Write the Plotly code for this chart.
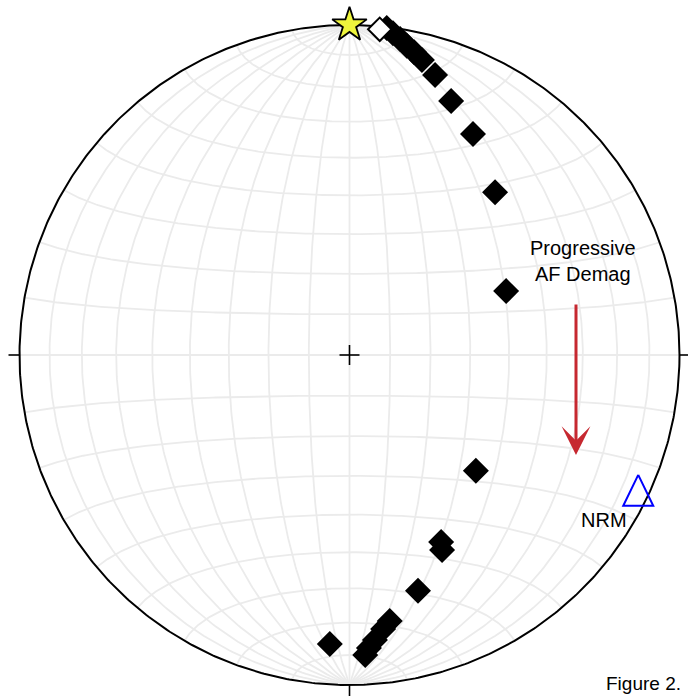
import numpy as np
import plotly.graph_objects as go

# Demagnetization directions (declination, inclination in degrees)
# lower hemisphere (filled)
dec_lower = [6.5, 7.7, 9.1, 10.5, 12.0, 13.8, 17.0, 21.8, 29.2, 41.8, 67.8,
             132.5, 153.9, 154.6, 163.8, 171.4, 173.0, 174.9, 176.2, 177.0, 183.9]
inc_lower = [0.3, 1.8, 3.4, 5.3, 6.8, 8.8, 12.3, 18.2, 24.3, 34.2, 47.5,
             46.9, 37.0, 34.9, 26.5, 19.6, 17.5, 14.4, 12.0, 9.9, 13.3]
# upper hemisphere (open)
dec_upper = [5.3]
inc_upper = [-1.0]
# natural remanent magnetization
nrm_dec = [116.0]
nrm_inc = [3.0]
# reference direction (star)
ref_dec = [0.0]
ref_inc = [0.0]

W, H = 688, 696
CX, CY, R = 349.5, 355.0, 330.0   # net centre and radius in pixels


def project(dec, inc):
    """Equal-area (Schmidt) projection of directions onto the unit circle."""
    d = np.radians(np.asarray(dec, float))
    i = np.radians(np.abs(np.asarray(inc, float)))
    r = np.sqrt(1.0 - np.sin(i))
    return r * np.sin(d), r * np.cos(d)


def net_xy(lam, phi):
    """Project a point given by longitude/latitude about the N-S axis."""
    lam, phi = np.radians(lam), np.radians(phi)
    e = np.cos(phi) * np.sin(lam)
    n = np.sin(phi)
    d = np.cos(phi) * np.cos(lam)
    s = 1.0 / np.sqrt(1.0 + d)
    return e * s, n * s


fig = go.Figure()

# 10-degree Schmidt net
gx, gy = [], []
t = np.linspace(-90, 90, 241)
for lam in range(-80, 81, 10):
    x, y = net_xy(np.full_like(t, lam), t)
    gx += list(x) + [None]
    gy += list(y) + [None]
for phi in range(-80, 81, 10):
    x, y = net_xy(t, np.full_like(t, phi))
    gx += list(x) + [None]
    gy += list(y) + [None]
fig.add_trace(go.Scatter(x=gx, y=gy, mode="lines",
                         line=dict(color="rgb(235,235,235)", width=1.8),
                         hoverinfo="skip", showlegend=False))

# primitive circle
a = np.linspace(0, 2 * np.pi, 721)
fig.add_trace(go.Scatter(x=np.cos(a), y=np.sin(a), mode="lines",
                         line=dict(color="black", width=2),
                         hoverinfo="skip", showlegend=False))

# cardinal ticks and centre cross
tick = 11 / R
arm = 10 / R
tx, ty = [], []
for ang in (0, 90, 180, 270):
    c, s = np.sin(np.radians(ang)), np.cos(np.radians(ang))
    tx += [c, c * (1 + tick), None]
    ty += [s, s * (1 + tick), None]
tx += [-arm, arm, None, 0, 0]
ty += [0, 0, None, -arm, arm]
fig.add_trace(go.Scatter(x=tx, y=ty, mode="lines",
                         line=dict(color="black", width=1.6),
                         hoverinfo="skip", showlegend=False))

# lower-hemisphere directions
lx, ly = project(dec_lower, inc_lower)
fig.add_trace(go.Scatter(x=lx, y=ly, mode="markers",
                         marker=dict(symbol="diamond", size=20, color="black",
                                     line=dict(width=0)),
                         showlegend=False))

# upper-hemisphere directions
ux, uy = project(dec_upper, inc_upper)
fig.add_trace(go.Scatter(x=ux, y=uy, mode="markers",
                         marker=dict(symbol="diamond", size=18, color="white",
                                     line=dict(width=2, color="black")),
                         showlegend=False))

# reference direction
sx, sy = project(ref_dec, ref_inc)
fig.add_trace(go.Scatter(x=sx, y=sy, mode="markers",
                         marker=dict(symbol="star", size=26, color="#eef53c",
                                     line=dict(width=1.8, color="black")),
                         showlegend=False))

# NRM: open triangle centred on the direction
nx, ny = project(nrm_dec, nrm_inc)
tri_dx = np.array([0, 15, -15, 0]) / R
tri_dy = np.array([21, -10, -10, 21]) / R
fig.add_trace(go.Scatter(x=nx[0] + tri_dx, y=ny[0] + tri_dy, mode="lines",
                         line=dict(color="#0000ff", width=2),
                         hoverinfo="skip", showlegend=False))

FAMILY = "Liberation Sans, Arial, sans-serif"


def px(xp):
    return xp / W


def py(yp):
    return 1 - yp / H


def label(xp, yp, text, size):
    fig.add_annotation(x=px(xp), y=py(yp), xref="paper", yref="paper",
                       xanchor="center", yanchor="middle",
                       text=text, showarrow=False, align="center",
                       font=dict(family=FAMILY, size=size, color="black"))


label(583, 261, "Progressive<br>AF Demag", 20)
label(604, 520, "NRM", 20)
label(643, 683, "Figure 2.", 19)

# demagnetization trend arrow
fig.add_annotation(x=px(576), y=py(455), xref="paper", yref="paper",
                   ax=0, ay=-152, axref="pixel", ayref="pixel",
                   text="", showarrow=True, arrowhead=3, arrowsize=1.6,
                   arrowwidth=3, arrowcolor="#c62830")

fig.update_xaxes(range=[-CX / R, (W - CX) / R], visible=False, fixedrange=True)
fig.update_yaxes(range=[-(H - CY) / R, CY / R], visible=False, fixedrange=True)
fig.update_layout(width=W, height=H, autosize=False,
                  margin=dict(l=0, r=0, t=0, b=0),
                  paper_bgcolor="white", plot_bgcolor="white",
                  showlegend=False)

fig.write_html("out.html")
